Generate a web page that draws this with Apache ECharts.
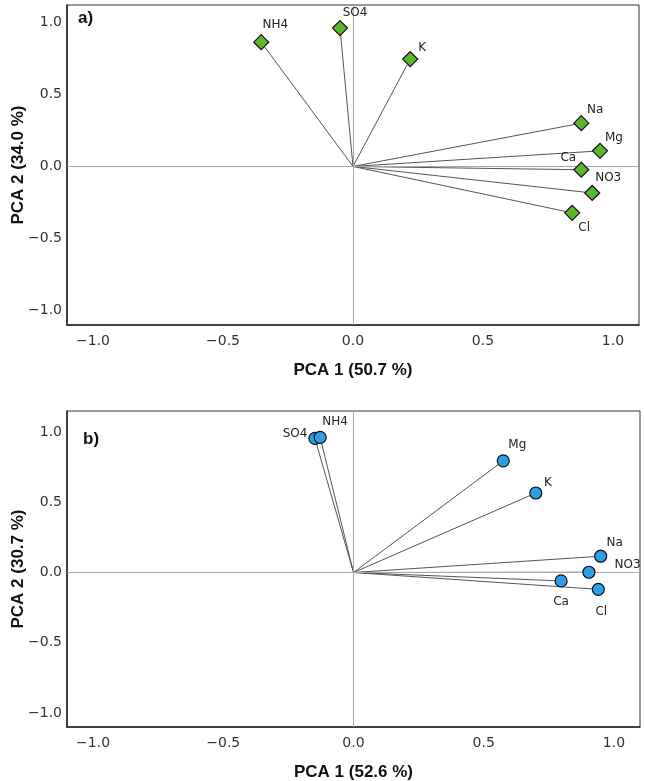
<!DOCTYPE html>
<html>
<head>
<meta charset="utf-8">
<script src="https://cdn.jsdelivr.net/npm/echarts@6/dist/echarts.min.js"></script>
<style>
html,body{margin:0;padding:0;background:#fff;}
#chart{width:645px;height:781px;}
</style>
</head>
<body>
<div id="chart"></div>
<script>
// ---- Data ----
const namesA = ['NH4', 'SO4', 'K', 'Na', 'Mg', 'Ca', 'NO3', 'Cl'];
const pc1A   = [-0.353, -0.050, 0.220, 0.878, 0.950, 0.878, 0.920, 0.843];
const pc2A   = [0.862, 0.960, 0.745, 0.300, 0.108, -0.023, -0.184, -0.322];

const namesB = ['SO4', 'NH4', 'Mg', 'K', 'Na', 'NO3', 'Ca', 'Cl'];
const pc1B   = [-0.148, -0.128, 0.575, 0.700, 0.949, 0.904, 0.797, 0.940];
const pc2B   = [0.955, 0.962, 0.795, 0.566, 0.116, 0.002, -0.060, -0.120];

const tickValues = [-1.0, -0.5, 0.0, 0.5, 1.0];
const xTitleA = 'PCA 1 (50.7 %)';
const yTitleA = 'PCA 2 (34.0 %)';
const xTitleB = 'PCA 1 (52.6 %)';
const yTitleB = 'PCA 2 (30.7 %)';

// ---- label placement (style, not data) ----
const placeA = {
  NH4: {position: 'top', offset: [14, 0]},
  SO4: {position: 'top', offset: [15, 2]},
  K:   {position: 'top', offset: [12, 6]},
  Na:  {position: 'top', offset: [14, 4]},
  Mg:  {position: 'top', offset: [14, 4]},
  Ca:  {position: 'top', offset: [-13, 5]},
  NO3: {position: 'top', offset: [16, 2]},
  Cl:  {position: 'bottom', offset: [12, -2]}
};
const placeB = {
  SO4: {position: 'left', offset: [2, -5]},
  NH4: {position: 'top', offset: [15, 0]},
  Mg:  {position: 'top', offset: [14, 0]},
  K:   {position: 'top', offset: [12, 5]},
  Na:  {position: 'top', offset: [14, 2]},
  NO3: {position: 'right', offset: [16, -7]},
  Ca:  {position: 'bottom', offset: [0, 5]},
  Cl:  {position: 'bottom', offset: [3, 7]}
};

const tickFont = 'DejaVu Sans';
function fmt(v) {
  let ok = false;
  for (const t of tickValues) if (Math.abs(v - t) < 1e-6) ok = true;
  if (!ok) return '';
  const s = Math.abs(v).toFixed(1);
  return v < -1e-9 ? '\u2212' + s : s;
}

function makeAxes(gi, xName, yName, yMin, yMax) {
  const x = {
    type: 'value', gridIndex: gi, min: -1.1, max: 1.1, splitNumber: 4,
    name: xName, nameLocation: 'middle', nameGap: 37, nameMoveOverlap: false,
    nameTextStyle: {fontFamily: 'Liberation Sans', fontWeight: 'bold', fontSize: 17, color: '#111'},
    axisLine: {show: true, onZero: false, lineStyle: {color: '#222', width: 1.5}},
    axisTick: {show: false},
    splitLine: {show: false},
    axisLabel: {formatter: fmt, fontFamily: tickFont, fontSize: 14, color: '#333', margin: 9,
      showMinLabel: false, showMaxLabel: false}
  };
  const y = {
    type: 'value', gridIndex: gi, min: yMin, max: yMax, splitNumber: 4,
    name: yName, nameLocation: 'middle', nameGap: 40, nameMoveOverlap: false,
    nameTextStyle: {fontFamily: 'Liberation Sans', fontWeight: 'bold', fontSize: 17, color: '#111'},
    axisLine: {show: true, onZero: false, lineStyle: {color: '#222', width: 1.5}},
    axisTick: {show: false},
    splitLine: {show: false},
    axisLabel: {formatter: fmt, fontFamily: tickFont, fontSize: 14, color: '#333', margin: 5,
      showMinLabel: false, showMaxLabel: false}
  };
  return [x, y];
}

function makeSeries(gi, names, xs, ys, place, symbol, size, color) {
  const vecs = names.map((n, i) => ({coords: [[0, 0], [xs[i], ys[i]]]}));
  const pts = names.map((n, i) => ({
    name: n, value: [xs[i], ys[i]],
    label: {show: true, position: place[n].position, offset: place[n].offset, distance: 3}
  }));
  return [
    {
      type: 'line', xAxisIndex: gi, yAxisIndex: gi, data: [], silent: true,
      markLine: {
        silent: true, symbol: 'none', label: {show: false},
        lineStyle: {color: '#a8a8a8', width: 1, type: 'solid'},
        data: [{xAxis: 0}, {yAxis: 0}]
      }
    },
    {
      type: 'lines', coordinateSystem: 'cartesian2d', xAxisIndex: gi, yAxisIndex: gi,
      silent: true, data: vecs,
      lineStyle: {color: '#555', width: 1, opacity: 1}
    },
    {
      type: 'scatter', xAxisIndex: gi, yAxisIndex: gi, data: pts,
      symbol: symbol, symbolSize: size, z: 5,
      itemStyle: {color: color, borderColor: '#111', borderWidth: 1.2, opacity: 1},
      label: {formatter: '{b}', fontFamily: tickFont, fontSize: 12, color: '#222'}
    }
  ];
}

const axA = makeAxes(0, xTitleA, yTitleA, -1.1, 1.12);
const axB = makeAxes(1, xTitleB, yTitleB, -1.1, 1.15);

const chart = echarts.init(document.getElementById('chart'), null, {renderer: 'canvas'});
chart.setOption({
  animation: false,
  backgroundColor: '#ffffff',
  grid: [
    {left: 67, right: 6, top: 5, height: 320, show: true, borderColor: '#333', borderWidth: 1,
     backgroundColor: 'transparent', containLabel: false, outerBoundsMode: 'none'},
    {left: 67, right: 5, top: 411, height: 316, show: true, borderColor: '#333', borderWidth: 1,
     backgroundColor: 'transparent', containLabel: false, outerBoundsMode: 'none'}
  ],
  xAxis: [axA[0], axB[0]],
  yAxis: [axA[1], axB[1]],
  graphic: [
    {type: 'text', left: 78, top: 10, style: {text: 'a)', font: 'bold 17px "Liberation Sans"', fill: '#111'}},
    {type: 'text', left: 83, top: 431, style: {text: 'b)', font: 'bold 17px "Liberation Sans"', fill: '#111'}}
  ],
  series: [].concat(
    makeSeries(0, namesA, pc1A, pc2A, placeA, 'diamond', 15, '#5cb531'),
    makeSeries(1, namesB, pc1B, pc2B, placeB, 'circle', 12, '#2f9ee8')
  )
});
</script>
</body>
</html>
